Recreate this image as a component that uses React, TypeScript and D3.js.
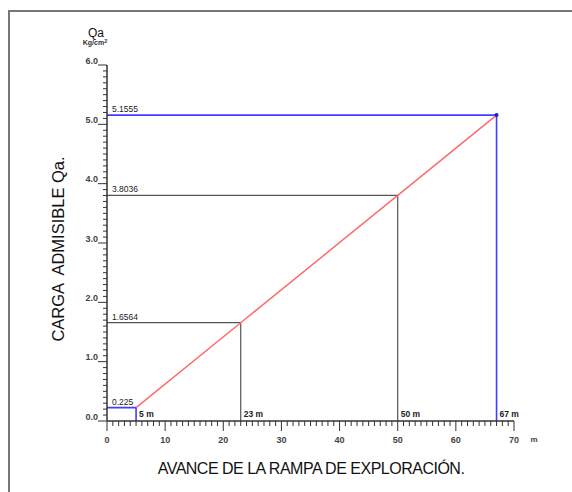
import React from 'react';
import * as d3 from 'd3';

// Avance (m) y carga admisible Qa (Kg/cm2)
const distances = [5, 23, 50, 67];
const loads = [0.225, 1.6564, 3.8036, 5.1555];
const loadLabels = ['0.225', '1.6564', '3.8036', '5.1555'];
const distLabels = ['5 m', '23 m', '50 m', '67 m'];
const xTickLabels = ['0', '10', '20', '30', '40', '50', '60', '70'];
const yTickLabels = ['0.0', '1.0', '2.0', '3.0', '4.0', '5.0', '6.0'];

const font = '"Liberation Sans", Arial, sans-serif';

const App = () => {
  const width = 572;
  const height = 492;

  const x = d3.scaleLinear().domain([0, 70]).range([107, 514]);
  const y = d3.scaleLinear().domain([0, 6]).range([421, 65]);

  const points = distances.map((d, i) => ({ d, q: loads[i] }));
  const line = d3
    .line<{ d: number; q: number }>()
    .x((p) => x(p.d))
    .y((p) => y(p.q));

  const guideColor = (i: number) =>
    i === 0 || i === distances.length - 1 ? '#3f3fff' : '#555';

  const xMinor = x.ticks(70);
  const yMinor = y.ticks(60);

  return (
    <svg
      width={width}
      height={height}
      style={{ position: 'absolute', left: 0, top: 0, background: '#fff' }}
      fontFamily={font}
    >
      {/* marco */}
      <path d="M9,492 V11 H572" fill="none" stroke="#777" strokeWidth={2} />

      {/* lineas guia */}
      {points.map((p, i) => (
        <path
          key={'g' + i}
          d={`M${x(0)},${y(p.q)} H${x(p.d)} V${y(0)}`}
          fill="none"
          stroke={guideColor(i)}
          strokeWidth={i === 0 || i === 3 ? 1.6 : 1.2}
        />
      ))}

      {/* recta de carga */}
      <path d={line(points) || ''} fill="none" stroke="#ff6b6b" strokeWidth={1.5} />
      <circle cx={x(67)} cy={y(5.1555)} r={2} fill="#2020c0" />

      {/* eje Y */}
      <line x1={x(0)} x2={x(0)} y1={y(0)} y2={y(6)} stroke="#333" strokeWidth={1.5} />
      {yMinor.map((v, i) => (
        <line
          key={'yt' + i}
          x1={x(0)}
          x2={x(0) - (i % 10 === 0 ? 9 : 4)}
          y1={y(v)}
          y2={y(v)}
          stroke="#333"
          strokeWidth={1}
        />
      ))}
      {yTickLabels.map((t, i) => (
        <text
          key={'yl' + i}
          x={x(0) - 9}
          y={y(i) - 1.5}
          textAnchor="end"
          fontSize={9}
          fontWeight="bold"
          fill="#444"
        >
          {t}
        </text>
      ))}

      {/* eje X */}
      <line x1={x(0)} x2={x(70)} y1={y(0)} y2={y(0)} stroke="#333" strokeWidth={1.5} />
      {xMinor.map((v, i) => (
        <line
          key={'xt' + i}
          x1={x(v)}
          x2={x(v)}
          y1={y(0)}
          y2={y(0) + (i % 10 === 0 ? 10 : 5)}
          stroke="#333"
          strokeWidth={1}
        />
      ))}
      {xTickLabels.map((t, i) => (
        <text
          key={'xl' + i}
          x={x(i * 10)}
          y={y(0) + 22}
          textAnchor="middle"
          fontSize={9}
          fontWeight="bold"
          fill="#444"
        >
          {t}
        </text>
      ))}
      <text x={x(70) + 20} y={y(0) + 21} textAnchor="middle" fontSize={8} fontWeight="bold" fill="#444">
        m
      </text>

      {/* etiquetas de valores */}
      {points.map((p, i) => (
        <g key={'lab' + i}>
          <text x={x(0) + 5} y={y(p.q) - 3} fontSize={8.5} fill="#222">
            {loadLabels[i]}
          </text>
          <text x={x(p.d) + 3} y={y(0) - 4} fontSize={8.5} fontWeight="bold" fill="#222">
            {distLabels[i]}
          </text>
        </g>
      ))}

      {/* titulos */}
      <text x={96} y={37} textAnchor="middle" fontSize={12} fill="#111">
        Qa
      </text>
      <text x={95} y={45} textAnchor="middle" fontSize={7} fontWeight="bold" fill="#333">
        Kg/cm
        <tspan dy={-2.5} fontSize={5.5}>2</tspan>
      </text>
      <text
        transform="translate(64,249) rotate(-90)"
        textAnchor="middle"
        fontSize={16.5}
        fill="#111"
        style={{ whiteSpace: 'pre' }}
      >
        {'CARGA  ADMISIBLE Qa.'}
      </text>
      <text x={311} y={474} textAnchor="middle" fontSize={16} fill="#111" letterSpacing={-0.5}>
        AVANCE DE LA RAMPA DE EXPLORACIÓN.
      </text>
    </svg>
  );
};

export default App;
